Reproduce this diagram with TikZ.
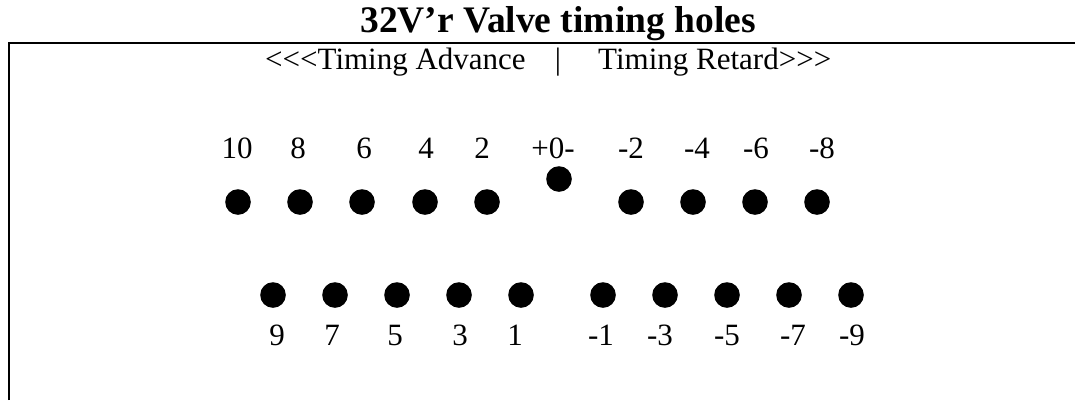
\documentclass[tikz,border=0pt]{standalone}
\usepackage{fontspec}
\setmainfont{Liberation Serif}[Ligatures=TeXOff]

\tikzset{
  hole/.style={circle,fill=black,inner sep=0pt,minimum size=25.6pt},
  num/.style={anchor=base,inner sep=0pt,font=\fontsize{31}{31}\selectfont},
}

\begin{document}
\begin{tikzpicture}[x=1pt,y=-1pt]
  \useasboundingbox (0,0) rectangle (1075,400);
  % frame
  \draw[line width=2pt] (9,400) -- (9,43) -- (1075,43);
  \node[anchor=base,inner sep=0pt,font=\bfseries\fontsize{37.5}{37.5}\selectfont] (title) at (558,32) {32V’r Valve timing holes};
  \node[num,anchor=base west] (adv) at (265,69) {<<<Timing Advance};
  \node[num] (sep) at (558,69) {|};
  \node[num,anchor=base west] (ret) at (598,69) {Timing Retard>>>};
  % even holes
  \foreach \k/\x in {10/238,8/300,6/362,4/425,2/487,m2/631,m4/693,m6/755,m8/817}
    \node[hole] (h\k) at (\x,202) {};
  \node[hole] (h0) at (559,179) {};
  \foreach \k/\x/\t in {10/237/10,8/298/8,6/364/6,4/426/4,2/482/2,0/553/+0-,m2/631/-2,m4/697/-4,m6/756/-6,m8/822/-8}
    \node[num] (l\k) at (\x,158) {\t};
  % odd holes
  \foreach \k/\x in {9/273,7/335,5/397,3/459,1/521,m1/603,m3/665,m5/727,m7/789,m9/851}
    \node[hole] (h\k) at (\x,295) {};
  \foreach \k/\x/\t in {9/277/9,7/332/7,5/395/5,3/460/3,1/515/1,m1/601/-1,m3/660/-3,m5/727/-5,m7/793/-7,m9/852/-9}
    \node[num] (l\k) at (\x,345) {\t};
\end{tikzpicture}
\end{document}
